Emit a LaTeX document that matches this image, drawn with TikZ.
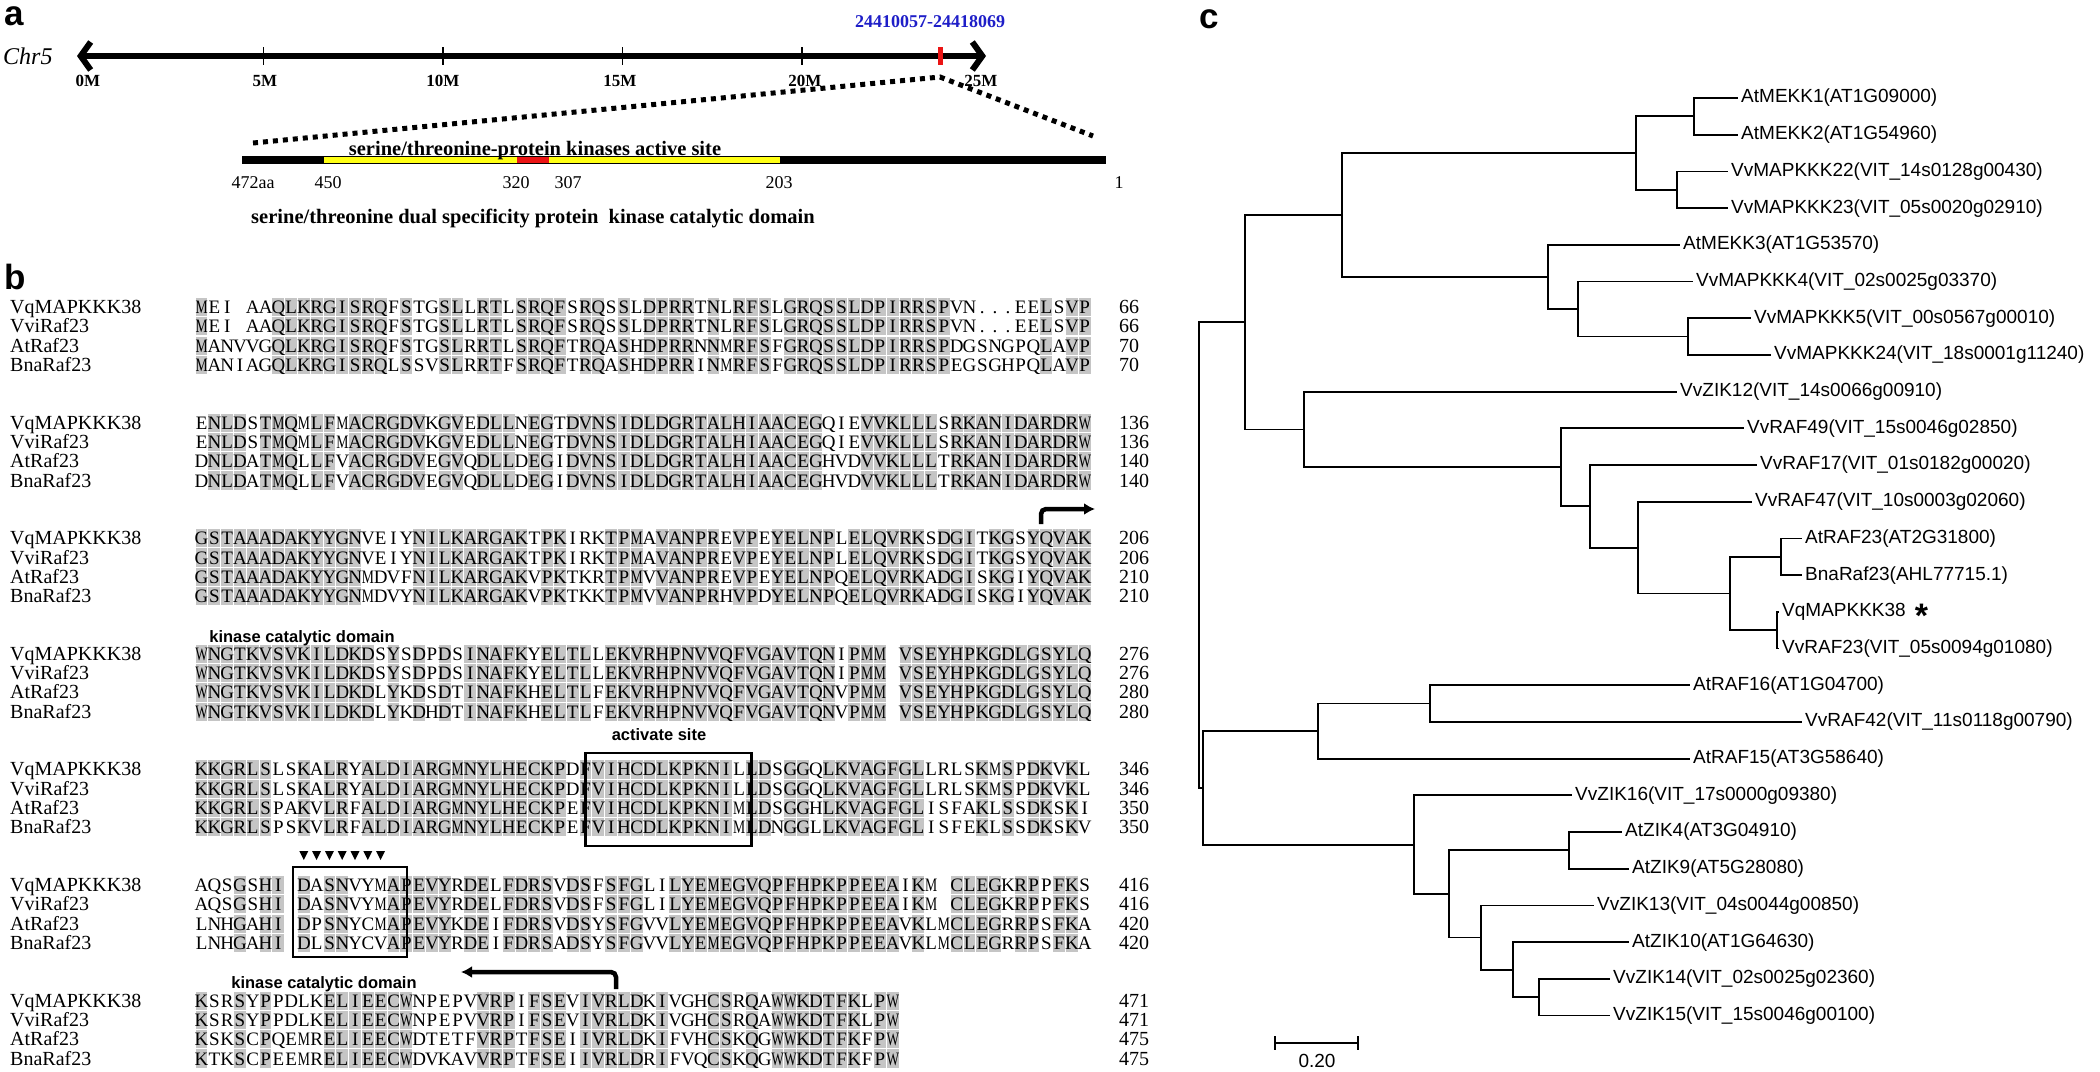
\documentclass[tikz,border=0pt]{standalone}
\usepackage{fontspec}
\setmainfont{Liberation Serif}
\setsansfont{Liberation Sans}
\usepackage{graphicx}
\usetikzlibrary{arrows.meta}

\definecolor{aligngray}{RGB}{197,197,197}
\definecolor{locblue}{RGB}{30,30,200}
\definecolor{domred}{RGB}{235,20,20}
\definecolor{domyellow}{RGB}{255,255,20}

\tikzset{
  panel/.style={anchor=base west, inner sep=0pt, font=\sffamily\bfseries\fontsize{35}{40}\selectfont},
  ticklbl/.style={anchor=base, inner sep=0pt, font=\bfseries\fontsize{17}{19}\selectfont},
  aanum/.style={anchor=base, inner sep=0pt, font=\fontsize{18}{20}\selectfont},
  boldlbl/.style={anchor=base, inner sep=0pt, font=\bfseries\fontsize{20.5}{23}\selectfont},
  zoomline/.style={line width=5pt, dash pattern=on 5pt off 5pt},
  seqname/.style={anchor=base west, inner sep=0pt, font=\fontsize{20}{22}\selectfont},
  seqtxt/.style={anchor=base west, inner sep=0pt, font=\fontsize{19}{22}\selectfont},
  seqnum/.style={anchor=base west, inner sep=0pt, font=\fontsize{20}{22}\selectfont},
  motif/.style={inner sep=0pt, font=\sffamily\bfseries\fontsize{16.5}{18}\selectfont},
  sitebox/.style={draw, line width=2.8pt},
  domarrow/.style={line width=4.5pt, rounded corners=5pt, -{Latex[length=11pt,width=12pt]}},
  leaf/.style={anchor=west, inner sep=3pt, font=\sffamily\fontsize{19}{22}\selectfont},
  branch/.style={line width=1.8pt},
}

% one residue per column of 12.8pt
\newcommand\rescol[1]{\makebox[12.8pt]{\ifx-#1\else\ifx M#1\scalebox{0.72}[1]{M}\else\ifx W#1\scalebox{0.7}[1]{W}\else#1\fi\fi\fi}}
\newcommand\resrow[1]{\resloop#1\relax}
\def\resloop#1{\ifx\relax#1\else\rescol{#1}\expandafter\resloop\fi}

% grey cells of one conserved column
\newcommand\shadecol[2]{%
  \foreach \r in {0,...,3}{%
    \fill[aligngray] ({195+(#1-1)*12.8+0.5},{#2+\r*19.3-9.1}) rectangle ({195+#1*12.8-0.5},{#2+\r*19.3+9.1});}}

\ExplSyntaxOn
\NewDocumentCommand \shadeblock { m m m m m }
  {
    \int_step_inline:nn { \str_count:n {#2} }
      {
        \bool_if:nT
          {
            \str_if_eq_p:ee { \str_item:nn {#2} {##1} } { \str_item:nn {#3} {##1} } &&
            \str_if_eq_p:ee { \str_item:nn {#2} {##1} } { \str_item:nn {#4} {##1} } &&
            \str_if_eq_p:ee { \str_item:nn {#2} {##1} } { \str_item:nn {#5} {##1} } &&
            ! \str_if_eq_p:ee { \str_item:nn {#2} {##1} } { - } &&
            ! \str_if_eq_p:ee { \str_item:nn {#2} {##1} } { . }
          }
          { \shadecol {##1} {#1} }
      }
  }
\ExplSyntaxOff

% block number, four rows, four end positions
\newcommand\alnblock[9]{%
  \pgfmathsetmacro\by{307+115.6*(#1-1)}%
  \shadeblock{\by}{#2}{#3}{#4}{#5}%
  \node[seqname] (q#1n) at (10,\by+6.5) {VqMAPKKK38};
  \node[seqname] (v#1n) at (10,\by+25.8) {VviRaf23};
  \node[seqname] (a#1n) at (10,\by+45.1) {AtRaf23};
  \node[seqname] (b#1n) at (10,\by+64.4) {BnaRaf23};
  \node[seqtxt] (q#1) at (195,\by+6.5) {\resrow{#2}};
  \node[seqtxt] (v#1) at (195,\by+25.8) {\resrow{#3}};
  \node[seqtxt] (a#1) at (195,\by+45.1) {\resrow{#4}};
  \node[seqtxt] (b#1) at (195,\by+64.4) {\resrow{#5}};
  \node[seqnum] (q#1c) at (1119,\by+6.5) {#6};
  \node[seqnum] (v#1c) at (1119,\by+25.8) {#7};
  \node[seqnum] (a#1c) at (1119,\by+45.1) {#8};
  \node[seqnum] (b#1c) at (1119,\by+64.4) {#9};
}

\begin{document}
\begin{tikzpicture}[x=1pt,y=-1pt]
  \fill[white] (0,0) rectangle (2100,1071);

  % ---- a: chromosome and protein
  \node[panel] (pa) at (4,25) {a};
  \node[anchor=base west, inner sep=0pt, font=\itshape\fontsize{24}{26}\selectfont] (chr) at (3,64) {Chr5};
  \node[anchor=base, inner sep=0pt, text=locblue, font=\bfseries\fontsize{18}{20}\selectfont] (loc) at (930,27) {24410057-24418069};
  \coordinate (cL) at (77,56);
  \coordinate (cR) at (986,56);
  \draw[line width=6pt, {Straight Barb[length=10pt,width=28pt]}-{Straight Barb[length=10pt,width=28pt]}] (cL) -- (cR);
  \foreach \k in {1,...,4}
    \draw[line width=1.5pt] ({84+179.5*\k},47) -- ({84+179.5*\k},65);
  \fill[domred] (937.5,47) rectangle (942.5,65);
  \foreach \x/\t in {88/0M,265/5M,443/10M,620/15M,805/20M,981/25M}
    \node[ticklbl] (m\t) at (\x,86) {\t};

  \coordinate (zL) at (253,143);
  \coordinate (zT) at (940,77);
  \coordinate (zR) at (1093,136);
  \draw[zoomline] (zL) -- (zT) -- (zR);

  \coordinate (pL) at (242,160);
  \coordinate (pR) at (1106,160);
  \draw[line width=8pt] (pL) -- (pR);
  \draw[domyellow, line width=5.5pt] (324,160) -- (780,160);
  \draw[domred, line width=6pt] (517,160) -- (549,160);
  \node[boldlbl] (site) at (535,155) {serine/threonine-protein kinases active site};
  \foreach \x/\t in {253/472aa,328/450,516/320,568/307,779/203,1119/1}
    \node[aanum] (aa\t) at (\x,188) {\t};
  \node[boldlbl] (dom) at (533,223) {serine/threonine dual specificity protein\ \ kinase catalytic domain};

  % ---- b: alignment
  \node[panel] (pb) at (4,289) {b};
  \alnblock{1}{MEI-AAQLKRGISRQFSTGSLLRTLSRQFSRQSSLDPRRTNLRFSLGRQSSLDPIRRSPVN...EELSVP}
              {MEI-AAQLKRGISRQFSTGSLLRTLSRQFSRQSSLDPRRTNLRFSLGRQSSLDPIRRSPVN...EELSVP}
              {MANVVGQLKRGISRQFSTGSLRRTLSRQFTRQASHDPRRNNMRFSFGRQSSLDPIRRSPDGSNGPQLAVP}
              {MANIAGQLKRGISRQLSSVSLRRTFSRQFTRQASHDPRRINMRFSFGRQSSLDPIRRSPEGSGHPQLAVP}
              {66}{66}{70}{70}
  \alnblock{2}{ENLDSTMQMLFMACRGDVKGVEDLLNEGTDVNSIDLDGRTALHIAACEGQIEVVKLLLSRKANIDARDRW}
              {ENLDSTMQMLFMACRGDVKGVEDLLNEGTDVNSIDLDGRTALHIAACEGQIEVVKLLLSRKANIDARDRW}
              {DNLDATMQLLFVACRGDVEGVQDLLDEGIDVNSIDLDGRTALHIAACEGHVDVVKLLLTRKANIDARDRW}
              {DNLDATMQLLFVACRGDVEGVQDLLDEGIDVNSIDLDGRTALHIAACEGHVDVVKLLLTRKANIDARDRW}
              {136}{136}{140}{140}
  \alnblock{3}{GSTAAADAKYYGNVEIYNILKARGAKTPKIRKTPMAVANPREVPEYELNPLELQVRKSDGITKGSYQVAK}
              {GSTAAADAKYYGNVEIYNILKARGAKTPKIRKTPMAVANPREVPEYELNPLELQVRKSDGITKGSYQVAK}
              {GSTAAADAKYYGNMDVFNILKARGAKVPKTKRTPMVVANPREVPEYELNPQELQVRKADGISKGIYQVAK}
              {GSTAAADAKYYGNMDVYNILKARGAKVPKTKKTPMVVANPRHVPDYELNPQELQVRKADGISKGIYQVAK}
              {206}{206}{210}{210}
  \alnblock{4}{WNGTKVSVKILDKDSYSDPDSINAFKYELTLLEKVRHPNVVQFVGAVTQNIPMM-VSEYHPKGDLGSYLQ}
              {WNGTKVSVKILDKDSYSDPDSINAFKYELTLLEKVRHPNVVQFVGAVTQNIPMM-VSEYHPKGDLGSYLQ}
              {WNGTKVSVKILDKDLYKDSDTINAFKHELTLFEKVRHPNVVQFVGAVTQNVPMM-VSEYHPKGDLGSYLQ}
              {WNGTKVSVKILDKDLYKDHDTINAFKHELTLFEKVRHPNVVQFVGAVTQNVPMM-VSEYHPKGDLGSYLQ}
              {276}{276}{280}{280}
  \alnblock{5}{KKGRLSLSKALRYALDIARGMNYLHECKPDFVIHCDLKPKNILLDSGGQLKVAGFGLLRLSKMSPDKVKL}
              {KKGRLSLSKALRYALDIARGMNYLHECKPDFVIHCDLKPKNILLDSGGQLKVAGFGLLRLSKMSPDKVKL}
              {KKGRLSPAKVLRFALDIARGMNYLHECKPEFVIHCDLKPKNIMLDSGGHLKVAGFGLISFAKLSSDKSKI}
              {KKGRLSPSKVLRFALDIARGMNYLHECKPEFVIHCDLKPKNIMLDNGGLLKVAGFGLISFEKLSSDKSKV}
              {346}{346}{350}{350}
  \alnblock{6}{AQSGSHI-DASNVYMAPEVYRDELFDRSVDSFSFGLILYEMEGVQPFHPKPPEEAIKM-CLEGKRPPFKS}
              {AQSGSHI-DASNVYMAPEVYRDELFDRSVDSFSFGLILYEMEGVQPFHPKPPEEAIKM-CLEGKRPPFKS}
              {LNHGAHI-DPSNYCMAPEVYKDEIFDRSVDSYSFGVVLYEMEGVQPFHPKPPEEAVKLMCLEGRRPSFKA}
              {LNHGAHI-DLSNYCVAPEVYRDEIFDRSADSYSFGVVLYEMEGVQPFHPKPPEEAVKLMCLEGRRPSFKA}
              {416}{416}{420}{420}
  \alnblock{7}{KSRSYPPDLKELIEECWNPEPVVRPIFSEVIVRLDKIVGHCSRQAWWKDTFKLPW}
              {KSRSYPPDLKELIEECWNPEPVVRPIFSEVIVRLDKIVGHCSRQAWWKDTFKLPW}
              {KSKSCPQEMRELIEECWDTETFVRPTFSEIIVRLDKIFVHCSKQGWWKDTFKFPW}
              {KTKSCPEEMRELIEECWDVKAVVRPTFSEIIVRLDRIFVQCSKQGWWKDTFKFPW}
              {471}{471}{475}{475}

  \coordinate (a3s) at (1041,524);
  \coordinate (a3e) at (1095,509);
  \draw[domarrow] (a3s) |- (a3e);
  \node[motif] (kcd1) at (302,638) {kinase catalytic domain};
  \node[motif] (act) at (659,735) {activate site};
  \draw[sitebox] (585.4,753) rectangle (751.8,846);
  \draw[sitebox] (293,867) rectangle (407,957);
  \foreach \k in {9,...,15}
    \fill ({195+(\k-0.5)*12.8-4.5},851) -- ++(9,0) -- ++(-4.5,9) -- cycle;
  \node[motif] (kcd2) at (324,984) {kinase catalytic domain};
  \coordinate (a7s) at (616,989);
  \coordinate (a7e) at (461,972);
  \draw[domarrow] (a7s) |- (a7e);

  % ---- c: tree
  \node[panel] (pc) at (1199,28) {c};
  \node[leaf] (t0) at (1738,98) {AtMEKK1(AT1G09000)};
  \node[leaf] (t1) at (1738,134.7) {AtMEKK2(AT1G54960)};
  \node[leaf] (t2) at (1728,171.4) {VvMAPKKK22(VIT\_14s0128g00430)};
  \node[leaf] (t3) at (1728,208.1) {VvMAPKKK23(VIT\_05s0020g02910)};
  \node[leaf] (t4) at (1680,244.8) {AtMEKK3(AT1G53570)};
  \node[leaf] (t5) at (1693,281.5) {VvMAPKKK4(VIT\_02s0025g03370)};
  \node[leaf] (t6) at (1751,318.2) {VvMAPKKK5(VIT\_00s0567g00010)};
  \node[leaf] (t7) at (1771,354.9) {VvMAPKKK24(VIT\_18s0001g11240)};
  \node[leaf] (t8) at (1677,391.6) {VvZIK12(VIT\_14s0066g00910)};
  \node[leaf] (t9) at (1744,428.3) {VvRAF49(VIT\_15s0046g02850)};
  \node[leaf] (t10) at (1757,465) {VvRAF17(VIT\_01s0182g00020)};
  \node[leaf] (t11) at (1752,501.7) {VvRAF47(VIT\_10s0003g02060)};
  \node[leaf] (t12) at (1802,538.4) {AtRAF23(AT2G31800)};
  \node[leaf] (t13) at (1802,575.1) {BnaRaf23(AHL77715.1)};
  \node[leaf] (t14) at (1779,611.8) {VqMAPKKK38\hspace{9pt}\smash{\raisebox{-11pt}{\fontsize{34}{34}\selectfont\bfseries *}}};
  \node[leaf] (t15) at (1779,648.5) {VvRAF23(VIT\_05s0094g01080)};
  \node[leaf] (t16) at (1690,685.2) {AtRAF16(AT1G04700)};
  \node[leaf] (t17) at (1802,721.9) {VvRAF42(VIT\_11s0118g00790)};
  \node[leaf] (t18) at (1690,758.6) {AtRAF15(AT3G58640)};
  \node[leaf] (t19) at (1572,795.3) {VvZIK16(VIT\_17s0000g09380)};
  \node[leaf] (t20) at (1622,832) {AtZIK4(AT3G04910)};
  \node[leaf] (t21) at (1629,868.7) {AtZIK9(AT5G28080)};
  \node[leaf] (t22) at (1594,905.4) {VvZIK13(VIT\_04s0044g00850)};
  \node[leaf] (t23) at (1629,942.1) {AtZIK10(AT1G64630)};
  \node[leaf] (t24) at (1610,978.8) {VvZIK14(VIT\_02s0025g02360)};
  \node[leaf] (t25) at (1610,1015.5) {VvZIK15(VIT\_15s0046g00100)};

  \coordinate (nR) at (1199,555);
  \coordinate (nZ) at (1203,787.9);
  \coordinate (nA) at (1245,322.2);
  \coordinate (nB) at (1342,215);
  \coordinate (nC) at (1636,153.05);
  \coordinate (nD) at (1694,116.35);
  \coordinate (nE) at (1677,189.75);
  \coordinate (nF) at (1548,276.9);
  \coordinate (nG) at (1578,309);
  \coordinate (nH) at (1688,336.55);
  \coordinate (nI) at (1304,429.45);
  \coordinate (nJ) at (1561,467.3);
  \coordinate (nK) at (1590,506.3);
  \coordinate (nL) at (1638,547.6);
  \coordinate (nM) at (1730,593.45);
  \coordinate (nN) at (1781,556.75);
  \coordinate (nO) at (1777,630.15);
  \coordinate (nP) at (1318,731.1);
  \coordinate (nQ) at (1430,703.55);
  \coordinate (nS) at (1414,844.6);
  \coordinate (nT) at (1449,893.9);
  \coordinate (nU) at (1569,850.35);
  \coordinate (nV) at (1481,937.5);
  \coordinate (nW) at (1513,969.6);
  \coordinate (nX) at (1539,997.15);

  \draw[branch] (nR) |- (nA);  \draw[branch] (nR) |- (nZ);
  \draw[branch] (nA) |- (nB);  \draw[branch] (nA) |- (nI);
  \draw[branch] (nB) |- (nC);  \draw[branch] (nB) |- (nF);
  \draw[branch] (nC) |- (nD);  \draw[branch] (nC) |- (nE);
  \draw[branch] (nD) |- (t0.west);  \draw[branch] (nD) |- (t1.west);
  \draw[branch] (nE) |- (t2.west);  \draw[branch] (nE) |- (t3.west);
  \draw[branch] (nF) |- (t4.west);  \draw[branch] (nF) |- (nG);
  \draw[branch] (nG) |- (t5.west);  \draw[branch] (nG) |- (nH);
  \draw[branch] (nH) |- (t6.west);  \draw[branch] (nH) |- (t7.west);
  \draw[branch] (nI) |- (t8.west);  \draw[branch] (nI) |- (nJ);
  \draw[branch] (nJ) |- (t9.west);  \draw[branch] (nJ) |- (nK);
  \draw[branch] (nK) |- (t10.west); \draw[branch] (nK) |- (nL);
  \draw[branch] (nL) |- (t11.west); \draw[branch] (nL) |- (nM);
  \draw[branch] (nM) |- (nN);  \draw[branch] (nM) |- (nO);
  \draw[branch] (nN) |- (t12.west); \draw[branch] (nN) |- (t13.west);
  \draw[branch] (nO) |- (t14.west); \draw[branch] (nO) |- (t15.west);
  \draw[branch] (nZ) |- (nP);  \draw[branch] (nZ) |- (nS);
  \draw[branch] (nP) |- (nQ);  \draw[branch] (nP) |- (t18.west);
  \draw[branch] (nQ) |- (t16.west); \draw[branch] (nQ) |- (t17.west);
  \draw[branch] (nS) |- (t19.west); \draw[branch] (nS) |- (nT);
  \draw[branch] (nT) |- (nU);  \draw[branch] (nT) |- (nV);
  \draw[branch] (nU) |- (t20.west); \draw[branch] (nU) |- (t21.west);
  \draw[branch] (nV) |- (t22.west); \draw[branch] (nV) |- (nW);
  \draw[branch] (nW) |- (t23.west); \draw[branch] (nW) |- (nX);
  \draw[branch] (nX) |- (t24.west); \draw[branch] (nX) |- (t25.west);

  % scale bar
  \coordinate (sb1) at (1275,1043);
  \coordinate (sb2) at (1358,1043);
  \draw[branch] (sb1) -- (sb2);
  \draw[branch] (sb1) ++(0,-7) -- ++(0,14);
  \draw[branch] (sb2) ++(0,-7) -- ++(0,14);
  \node[font=\sffamily\fontsize{19}{22}\selectfont, inner sep=0pt] (sbl) at (1317,1061) {0.20};
\end{tikzpicture}
\end{document}
